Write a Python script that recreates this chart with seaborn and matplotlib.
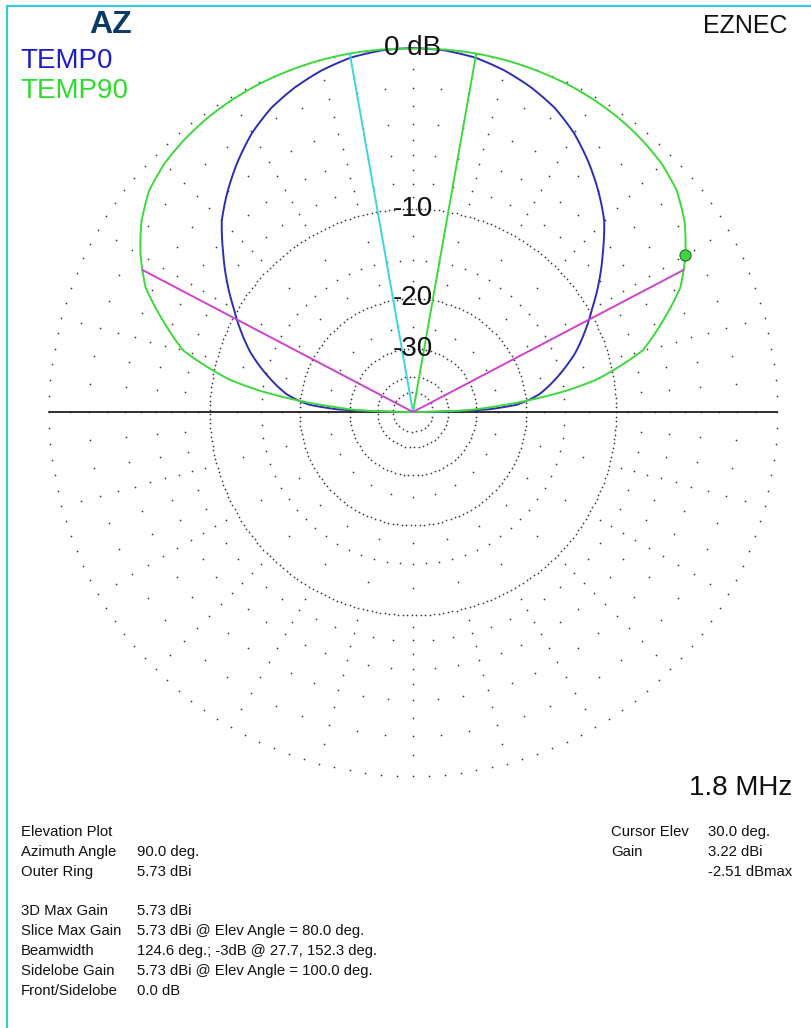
import numpy as np
import pandas as pd
import seaborn as sns
import matplotlib.pyplot as plt
from matplotlib.lines import Line2D

# elevation angles (deg) and gain relative to outer ring (dB)
elev = [0, 2, 4, 6, 8, 10, 15, 20, 25, 30, 35, 40, 45, 50, 55, 60, 65, 70, 75, 80, 85, 90,
        95, 100, 105, 110, 115, 120, 125, 130, 135, 140, 145, 150, 155, 160, 165, 170,
        172, 174, 176, 178, 180]
temp0_db = [-99, -27, -21.5, -19.5, -18, -17, -14.8, -12.8, -11.2, -9.7, -8.1, -6.6, -5.1,
            -4.0, -3.0, -2.1, -1.4, -0.9, -0.5, -0.2, -0.05, 0.0,
            -0.05, -0.2, -0.5, -0.9, -1.4, -2.1, -3.0, -4.0, -5.1, -6.6, -8.1, -9.7, -11.2,
            -12.8, -14.8, -17, -18, -19.5, -21.5, -27, -99]
temp90_db = [-99, -32, -25, -19, -14.5, -11.5, -7.3, -5.4, -3.6, -2.5, -1.6, -0.95, -0.6,
             -0.4, -0.25, -0.15, -0.08, -0.04, -0.01, 0.0, -0.01, -0.03,
             -0.01, 0.0, -0.01, -0.04, -0.08, -0.15, -0.25, -0.4, -0.6, -0.95, -1.6, -2.5,
             -3.6, -5.4, -7.3, -11.5, -14.5, -19, -25, -32, -99]

max_gain_angle = 80.0
sidelobe_angle = 100.0
beam_edges = [27.7, 152.3]
beam_edge_db = -3.0
cursor_elev = 30.0
cursor_db = -2.51

ring_labels = {0: "0 dB", -10: "-10", -20: "-20", -30: "-30"}
dense_rings = [-10, -20, -30, -40, -50]
levels_5deg = [-2, -4, -6, -8, -15]
levels_15deg = [-1, -3, -5, -7, -9, -12.5, -17.5, -25]

stat_labels = ["Elevation Plot", "Azimuth Angle", "Outer Ring", "", "3D Max Gain",
               "Slice Max Gain", "Beamwidth", "Sidelobe Gain", "Front/Sidelobe"]
stat_values = ["", "90.0 deg.", "5.73 dBi", "", "5.73 dBi",
               "5.73 dBi @ Elev Angle = 80.0 deg.",
               "124.6 deg.; -3dB @ 27.7, 152.3 deg.",
               "5.73 dBi @ Elev Angle = 100.0 deg.", "0.0 dB"]
cursor_labels = ["Cursor Elev", "Gain", ""]
cursor_values = ["30.0 deg.", "3.22 dBi", "-2.51 dBmax"]


def to_r(db):
    # ARRL log scale used by EZNEC
    return 0.89 ** (-np.asarray(db, dtype=float) / 2)


sns.set_theme(style="white")
plt.rcParams['font.family'] = ['Liberation Sans', 'DejaVu Sans']

W, H = 812, 1028
fig = plt.figure(figsize=(W / 100, H / 100), dpi=100)
fig.patch.set_facecolor('white')

cx, cy, R = 413, H - 412, 364
rmax = 1.02
half = R * rmax
ax = fig.add_axes([(cx - half) / W, (cy - half) / H, 2 * half / W, 2 * half / H],
                  projection='polar')
ax.set_ylim(0, rmax)
ax.set_axis_off()

dot = dict(ls='none', marker='o', ms=1.25, mec='none', color='#3a3a3a', zorder=1)

# dense dotted rings
for db in dense_rings:
    r = float(to_r(db))
    n = int(2 * np.pi * r * R / 4.5)
    th = np.linspace(0, 2 * np.pi, n, endpoint=False)
    ax.plot(th, np.full(n, r), **dot)

# outer ring and radial dot grid
th = np.deg2rad(np.arange(0, 360, 2.5))
ax.plot(th, np.ones_like(th), **dot)
th5 = np.deg2rad(np.arange(0, 360, 5))
for db in levels_5deg:
    ax.plot(th5, np.full(th5.size, float(to_r(db))), **dot)
th15 = np.deg2rad(np.arange(0, 360, 15))
for db in levels_15deg:
    ax.plot(th15, np.full(th15.size, float(to_r(db))), **dot)

# horizon line
ax.plot(np.deg2rad([180, 180, 0, 0]), [1, 0, 0, 1], color='#202020', lw=1.3, zorder=2)

# pattern traces
df = pd.DataFrame({'theta': np.deg2rad(elev),
                   'TEMP0': to_r(temp0_db),
                   'TEMP90': to_r(temp90_db)})
n_before = len(ax.get_lines())
sns.lineplot(data=df, x='theta', y='TEMP0', ax=ax, sort=False, color='#2e2eb0',
             lw=1.4, zorder=3)
sns.lineplot(data=df, x='theta', y='TEMP90', ax=ax, sort=False, color='#3ed83e',
             lw=1.4, zorder=3)
ax.set_xlabel('')
ax.set_ylabel('')
# draw the segments as arcs in polar space, like the original smooth curves
for ln in ax.get_lines()[n_before:]:
    ln.get_path()._interpolation_steps = 8

# max gain / sidelobe / beamwidth lines
ax.plot(np.deg2rad([max_gain_angle] * 2), [0, 1], color='#3ed83e', lw=1.4, zorder=3)
ax.plot(np.deg2rad([sidelobe_angle] * 2), [0, 1], color='#40d4dc', lw=1.4, zorder=3)
rb = float(to_r(beam_edge_db))
ax.plot(np.deg2rad([beam_edges[1], beam_edges[1], beam_edges[0], beam_edges[0]]),
        [rb, 0, 0, rb], color='#cc44cc', lw=1.4, zorder=4)

# cursor
ax.plot([np.deg2rad(cursor_elev)], [float(to_r(cursor_db))], marker='o', ms=8,
        color='#3ed83e', mec='#2a6a2a', mew=0.8, zorder=5)

for db, lab in ring_labels.items():
    ax.text(np.pi / 2, float(to_r(db)), lab, ha='center', va='center', fontsize=20,
            color='#111111', zorder=6)


def fx(px):
    return px / W


def fy(py):
    return 1 - py / H


# frame lines
fig.add_artist(Line2D([fx(7), 1], [fy(5.5), fy(5.5)], color='#3ccad4', lw=1.6))
fig.add_artist(Line2D([fx(7), fx(7)], [fy(5.5), 0], color='#3ccad4', lw=1.6))

fig.text(fx(111), fy(33), "AZ", ha='center', va='baseline', fontsize=23,
         fontweight='bold', color='#0b3a66')
fig.text(fx(20), fy(68), "TEMP0", ha='left', va='baseline', fontsize=20, color='#1e1ec8')
fig.text(fx(20), fy(98), "TEMP90", ha='left', va='baseline', fontsize=20, color='#2edc2e')
fig.text(fx(788), fy(33), "EZNEC", ha='right', va='baseline', fontsize=18, color='#111111')
fig.text(fx(792), fy(795), "1.8 MHz", ha='right', va='baseline', fontsize=20,
         color='#111111')

for i, (lab, val) in enumerate(zip(stat_labels, stat_values)):
    y = fy(836 + 19.85 * i)
    fig.text(fx(21), y, lab, ha='left', va='baseline', fontsize=10.7, color='#111111')
    fig.text(fx(137), y, val, ha='left', va='baseline', fontsize=10.7, color='#111111')
for i, (lab, val) in enumerate(zip(cursor_labels, cursor_values)):
    y = fy(836 + 19.85 * i)
    fig.text(fx(611), y, lab, ha='left', va='baseline', fontsize=10.7, color='#111111')
    fig.text(fx(708), y, val, ha='left', va='baseline', fontsize=10.7, color='#111111')

fig.savefig('out.png', dpi=100, facecolor='white')
